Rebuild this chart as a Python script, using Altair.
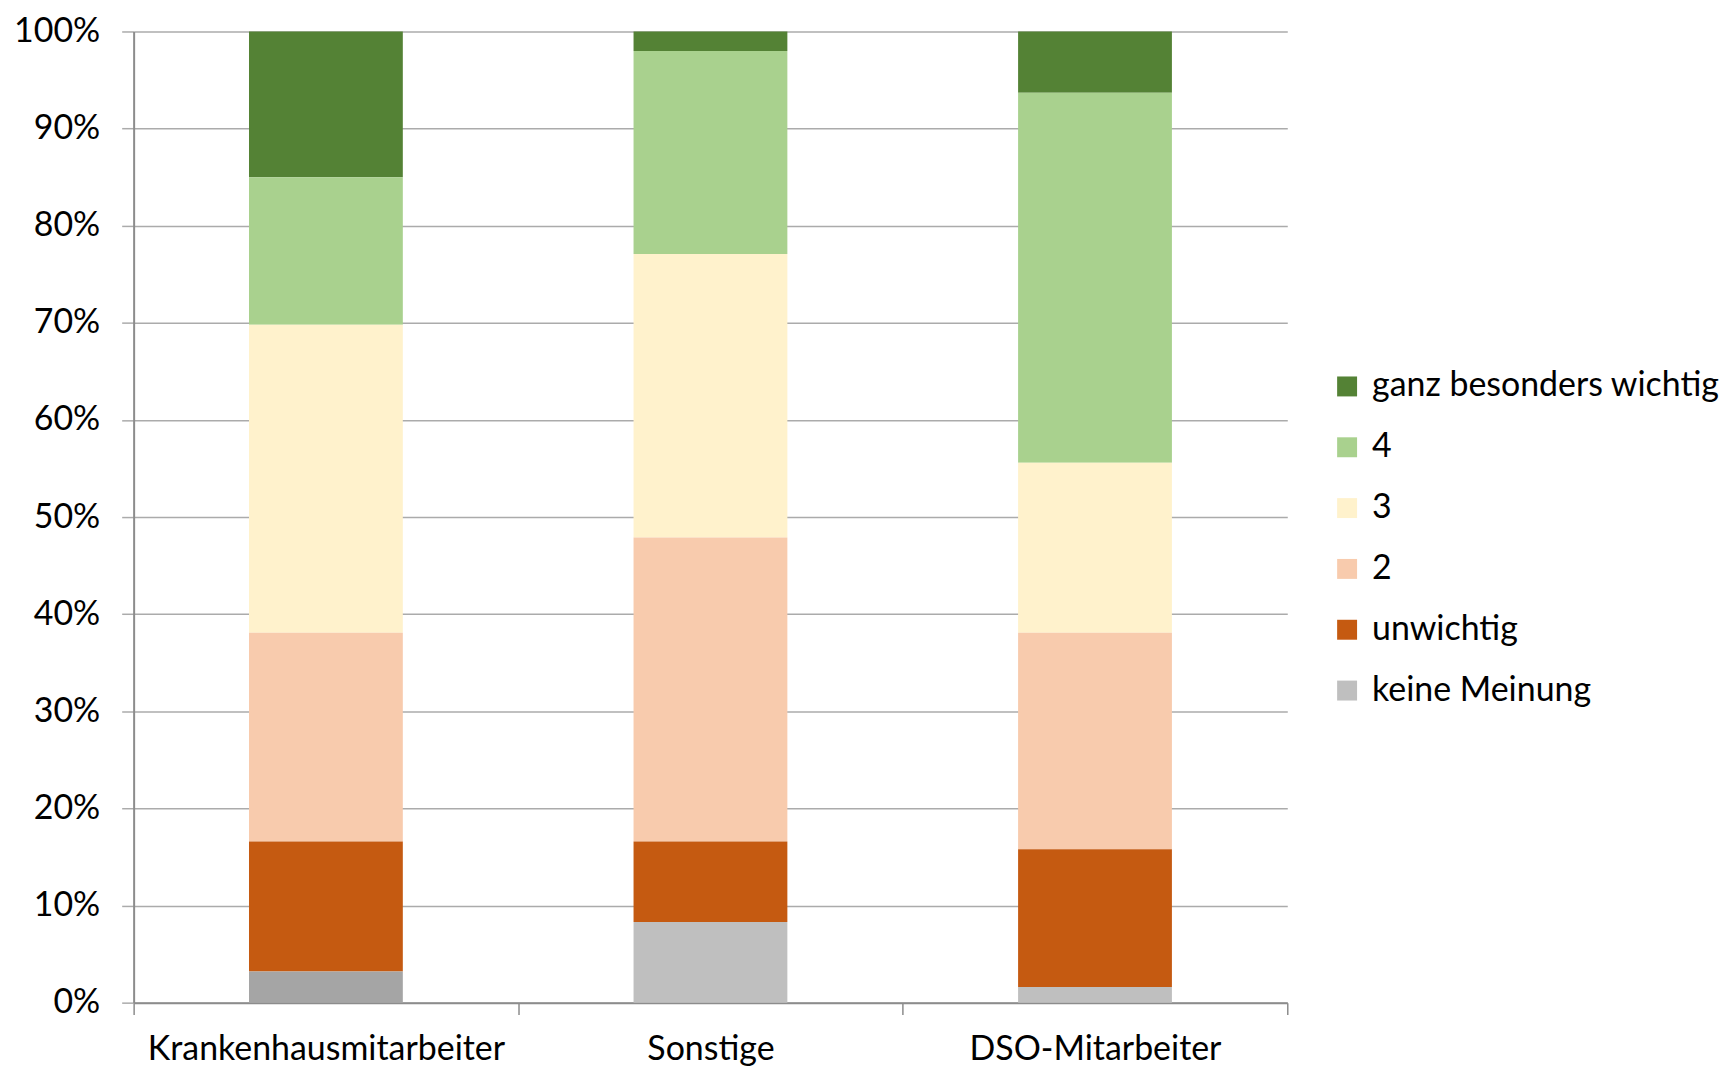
import altair as alt
import pandas as pd

groups = ["Krankenhausmitarbeiter", "Sonstige", "DSO-Mitarbeiter"]
responses = ["ganz besonders wichtig", "4", "3", "2", "unwichtig", "keine Meinung"]
colors = ["#548235", "#A9D18E", "#FFF2CC", "#F8CBAD", "#C55A11", "#BFBFBF"]

# percentage shares per group, in order of `responses`
krankenhaus = [15.0, 15.2, 31.7, 21.5, 13.4, 3.2]
sonstige = [2.0, 20.9, 29.2, 31.3, 8.3, 8.3]
dso = [6.3, 38.1, 17.5, 22.3, 14.2, 1.6]

rows = []
for g, vals in zip(groups, [krankenhaus, sonstige, dso]):
    for i, (r, v) in enumerate(zip(responses, vals)):
        rows.append({"gruppe": g, "antwort": r, "anteil": v / 100.0,
                     "ordnung": len(responses) - i})
df = pd.DataFrame(rows)

FONT = "Lato"
FS = 34

color_enc = alt.condition(
    "datum.gruppe == 'Krankenhausmitarbeiter' && datum.antwort == 'keine Meinung'",
    alt.value("#A5A5A5"),
    alt.Color(
        "antwort:N",
        scale=alt.Scale(domain=responses, range=colors),
        legend=alt.Legend(
            title=None,
            orient="none",
            legendX=1200,
            legendY=339,
            symbolType="square",
            symbolSize=400,
            symbolStrokeWidth=0,
            labelFontSize=FS,
            labelFont=FONT,
            labelColor="#000000",
            labelOffset=8,
            labelLimit=0,
            rowPadding=27,
        ),
    ),
)

chart = (
    alt.Chart(df)
    .mark_bar(width={"band": 0.4})
    .encode(
        x=alt.X(
            "gruppe:N",
            sort=groups,
            title=None,
            scale=alt.Scale(paddingInner=0, paddingOuter=0),
            axis=alt.Axis(
                labelAngle=0,
                labelFontSize=FS,
                labelFont=FONT,
                labelColor="#000000",
                labelPadding=18,
                labelLimit=0,
                tickBand="extent",
                tickSize=12,
                tickColor="#8C8C8C",
                tickWidth=1.5,
                domainColor="#8C8C8C",
                domainWidth=2,
                grid=False,
            ),
        ),
        y=alt.Y(
            "anteil:Q",
            stack="zero",
            title=None,
            scale=alt.Scale(domain=[0, 1], nice=False),
            axis=alt.Axis(
                values=[i / 10 for i in range(11)],
                format=".0%",
                labelFontSize=FS,
                labelFont=FONT,
                labelColor="#000000",
                labelPadding=22,
                tickSize=12,
                tickColor="#ABABAB",
                tickWidth=1.5,
                domainColor="#8C8C8C",
                domainWidth=2,
                gridColor="#ABABAB",
                gridWidth=1.5,
            ),
        ),
        color=color_enc,
        order=alt.Order("ordnung:Q", sort="ascending"),
    )
    .properties(
        width=1157,
        height=974,
        padding={"left": 5, "top": 5, "right": 5, "bottom": 5},
    )
    .configure_view(stroke=None)
)

chart.save("out.html", embed_options={"renderer": "svg", "actions": False})
